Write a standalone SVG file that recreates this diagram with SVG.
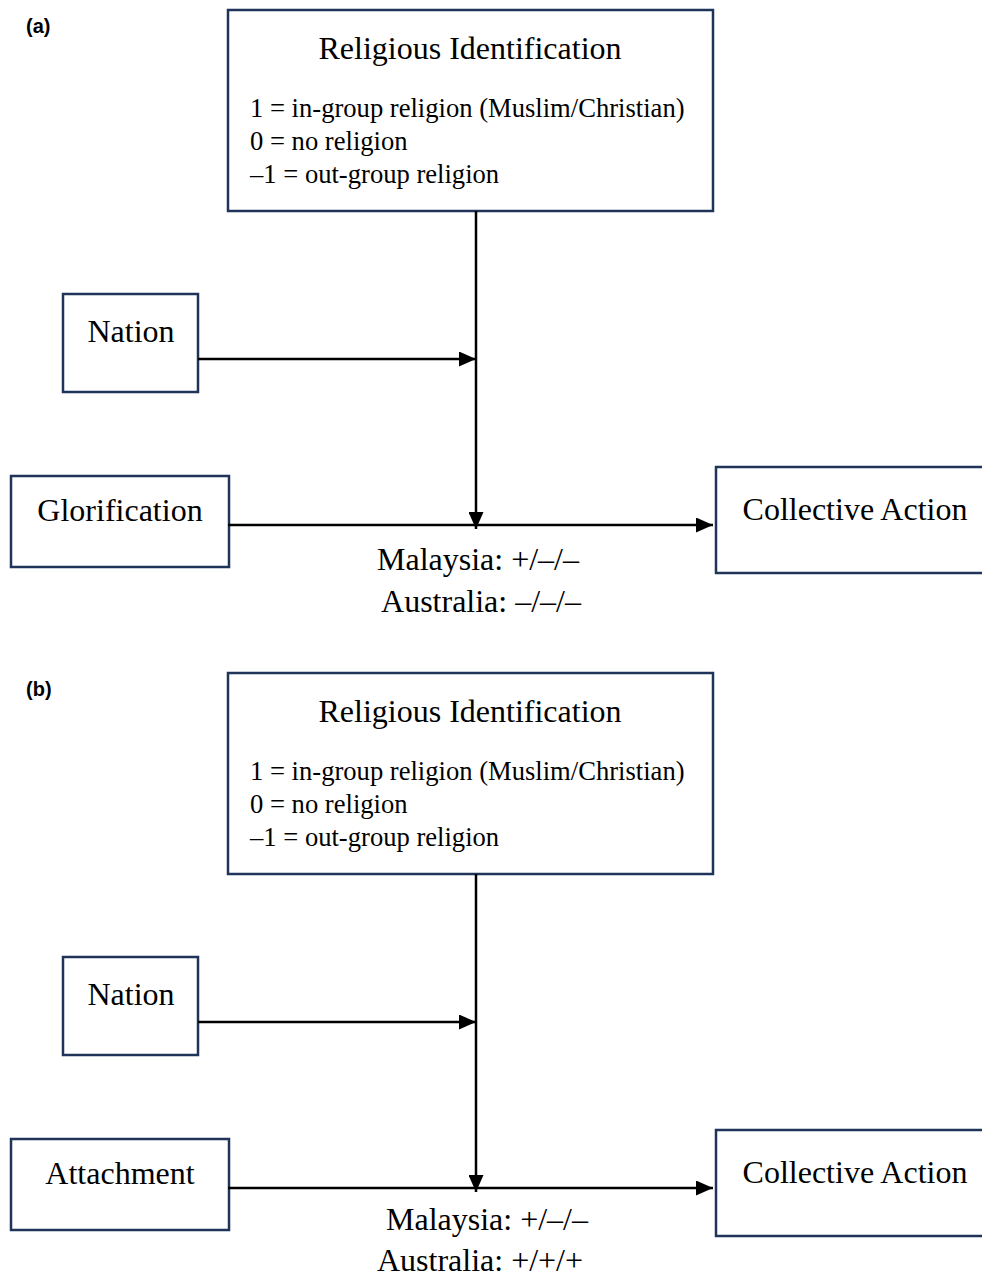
<svg xmlns="http://www.w3.org/2000/svg" width="982" height="1276" viewBox="0 0 982 1276">
<defs>
<style>
.box{fill:#fff;stroke:#1f3458;stroke-width:2.5}
.lbl{font-family:"Liberation Serif","Times New Roman",serif;font-size:32px;fill:#000;text-anchor:middle}
.lst{font-family:"Liberation Serif","Times New Roman",serif;font-size:26.6px;fill:#000}
.tag{font-family:"Liberation Sans",Arial,sans-serif;font-size:20px;font-weight:bold;fill:#000}
.ln{stroke:#000;stroke-width:2.5;fill:none}
</style>
<marker id="ah" viewBox="0 0 17 15" refX="17" refY="7.5" markerWidth="17" markerHeight="15" markerUnits="userSpaceOnUse" orient="auto">
<path d="M0,0 L17,7.5 L0,15 Z" fill="#000"/>
</marker>
</defs>
<rect width="982" height="1276" fill="#fff"/>

<g id="panel-a">
<text class="tag" x="26" y="33">(a)</text>
<g id="a-religious">
<rect class="box" x="228" y="10" width="485" height="201"/>
<text class="lbl" x="470" y="59">Religious Identification</text>
<text class="lst" x="250" y="117">1 = in-group religion (Muslim/Christian)</text>
<text class="lst" x="250" y="150">0 = no religion</text>
<text class="lst" x="250" y="183">–1 = out-group religion</text>
</g>
<g id="a-nation">
<rect class="box" x="63" y="294" width="135" height="98"/>
<text class="lbl" x="131" y="342">Nation</text>
</g>
<g id="a-glorification">
<rect class="box" x="11" y="476" width="218" height="91"/>
<text class="lbl" x="120" y="521">Glorification</text>
</g>
<g id="a-collective">
<rect class="box" x="716" y="467" width="270" height="106"/>
<text class="lbl" x="855" y="520">Collective Action</text>
</g>
<g id="a-connectors">
<line class="ln" x1="476" y1="211" x2="476" y2="529" marker-end="url(#ah)"/>
<line class="ln" x1="198" y1="359" x2="476" y2="359" marker-end="url(#ah)"/>
<line class="ln" x1="228" y1="525" x2="713" y2="525" marker-end="url(#ah)"/>
</g>
<text class="lbl" x="478" y="570">Malaysia: +/–/–</text>
<text class="lbl" x="481" y="612">Australia: –/–/–</text>
</g>

<g id="panel-b">
<text class="tag" x="26" y="696">(b)</text>
<g id="b-religious">
<rect class="box" x="228" y="673" width="485" height="201"/>
<text class="lbl" x="470" y="722">Religious Identification</text>
<text class="lst" x="250" y="780">1 = in-group religion (Muslim/Christian)</text>
<text class="lst" x="250" y="813">0 = no religion</text>
<text class="lst" x="250" y="846">–1 = out-group religion</text>
</g>
<g id="b-nation">
<rect class="box" x="63" y="957" width="135" height="98"/>
<text class="lbl" x="131" y="1005">Nation</text>
</g>
<g id="b-attachment">
<rect class="box" x="11" y="1139" width="218" height="91"/>
<text class="lbl" x="120" y="1184">Attachment</text>
</g>
<g id="b-collective">
<rect class="box" x="716" y="1130" width="270" height="106"/>
<text class="lbl" x="855" y="1183">Collective Action</text>
</g>
<g id="b-connectors">
<line class="ln" x1="476" y1="874" x2="476" y2="1192" marker-end="url(#ah)"/>
<line class="ln" x1="198" y1="1022" x2="476" y2="1022" marker-end="url(#ah)"/>
<line class="ln" x1="228" y1="1188" x2="713" y2="1188" marker-end="url(#ah)"/>
</g>
<text class="lbl" x="487" y="1230">Malaysia: +/–/–</text>
<text class="lbl" x="480" y="1271">Australia: +/+/+</text>
</g>
</svg>
